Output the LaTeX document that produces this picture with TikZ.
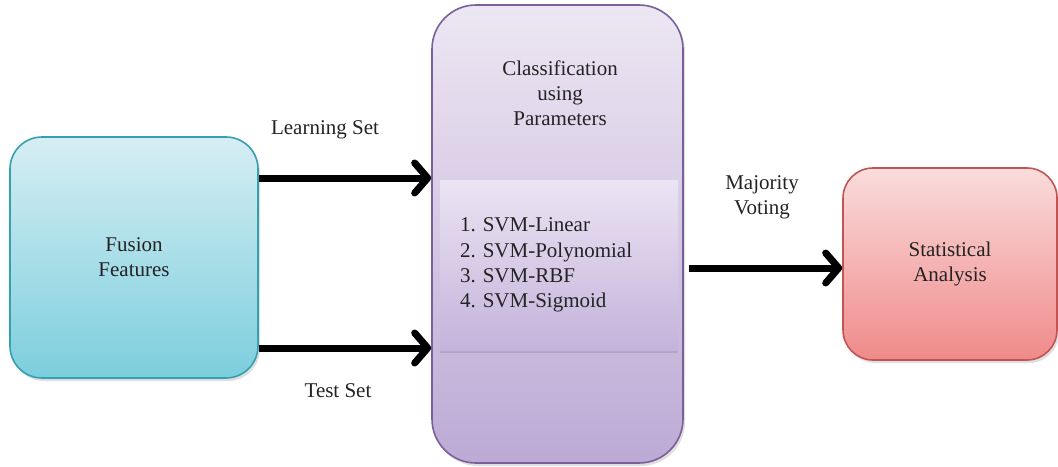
\documentclass[tikz,border=0pt]{standalone}
\usepackage{fontspec}
\setmainfont{Liberation Serif}
\usetikzlibrary{arrows.meta,shadows}
\frenchspacing
\definecolor{fusiontop}{RGB}{214,238,243}
\definecolor{fusionbot}{RGB}{124,206,221}
\definecolor{fusionline}{RGB}{52,160,176}
\definecolor{classtop}{RGB}{237,231,243}
\definecolor{classbot}{RGB}{188,170,213}
\definecolor{classline}{RGB}{122,96,154}
\definecolor{listtop}{RGB}{235,228,243}
\definecolor{listbot}{RGB}{196,179,219}
\definecolor{statstop}{RGB}{250,220,220}
\definecolor{statsbot}{RGB}{240,138,138}
\definecolor{statsline}{RGB}{194,84,84}
\definecolor{textgray}{RGB}{35,35,35}

\tikzset{
  box/.style={draw, line width=0.8pt, rounded corners=#1, align=center, text=textgray,
    drop shadow={shadow xshift=1pt, shadow yshift=-1.5pt, opacity=0.25}},
  bigarrow/.style={line width=3.5pt, -{Straight Barb[length=6.5pt,width=15pt,round]}},
  lbl/.style={text=textgray, align=center}
}

\begin{document}
\begin{tikzpicture}[x=0.5pt, y=-0.5pt, every node/.style={font=\fontsize{10.5}{12.6}\selectfont}]
\useasboundingbox (0,0) rectangle (1058,466);

% Fusion features
\node[box=16pt, draw=fusionline, top color=fusiontop, bottom color=fusionbot,
  minimum width=124pt, minimum height=120.5pt] (fusion) at (134,257.5) {Fusion\\Features};

% Classifier block
\node[box=22pt, draw=classline, top color=classtop, bottom color=classbot,
  minimum width=125.5pt, minimum height=229pt] (classify) at (557.5,234) {};
\node[lbl] (title) at (560,93) {Classification\\using\\Parameters};
\node[text=textgray, top color=listtop, bottom color=listbot, align=left,
  text width=99pt, inner xsep=10pt, minimum height=85pt,
  drop shadow={shadow xshift=0pt, shadow yshift=-1.5pt, opacity=0.3}] (svmlist) at (559,265)
  {1. SVM-Linear\\2. SVM-Polynomial\\3. SVM-RBF\\4. SVM-Sigmoid};

% Statistical analysis
\node[box=15pt, draw=statsline, top color=statstop, bottom color=statsbot,
  minimum width=107pt, minimum height=96pt] (stats) at (950,264) {Statistical\\Analysis};

% Arrows
\draw[bigarrow] (fusion.east |- 0,178) -- (classify.west |- 0,178);
\draw[bigarrow] (fusion.east |- 0,348) -- (classify.west |- 0,348);
\draw[bigarrow] ([xshift=2.5pt]classify.east |- 0,268) -- (stats.west |- 0,268);

% Labels
\node[lbl] (learnlbl) at (325,130) {Learning Set};
\node[lbl] (testlbl) at (338,391) {Test Set};
\node[lbl] (votelbl) at (762,197) {Majority\\Voting};
\end{tikzpicture}
\end{document}
